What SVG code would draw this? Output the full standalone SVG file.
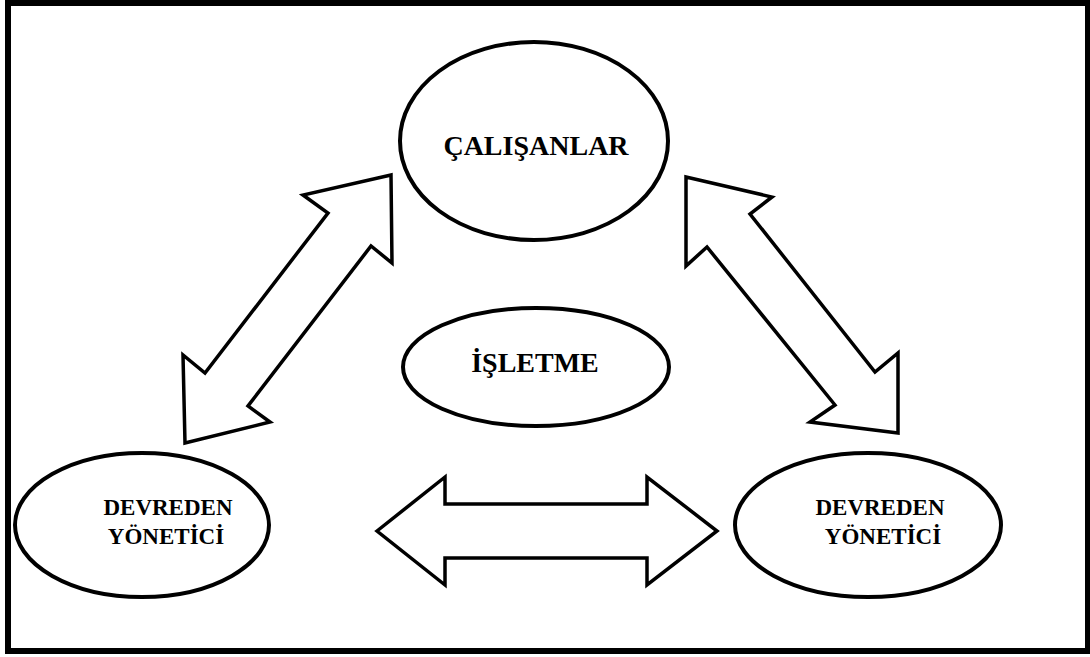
<svg xmlns="http://www.w3.org/2000/svg" width="1090" height="657" viewBox="0 0 1090 657">
  <style>
    .frame { fill: #ffffff; stroke: #000000; stroke-width: 6; }
    .node { fill: #ffffff; stroke: #000000; stroke-width: 4; }
    .arrow { fill: #ffffff; stroke: #000000; stroke-width: 3.5; stroke-linejoin: miter; }
    .label { font-family: "Liberation Serif", "Times New Roman", serif; font-weight: bold; fill: #000000; text-anchor: middle; }
  </style>

  <!-- outer frame -->
  <rect class="frame" x="8" y="3" width="1080" height="648"/>

  <!-- block arrows between the parties -->
  <g id="connectors">
    <polygon class="arrow" points="391,175 303,195 328,213 205,373 183,355 185,443 270,422 248,406 371,246 392,263"/>
    <polygon class="arrow" points="686,177 772,197 750,214 875,372 898,353 898,433 810,422 835,405 707,247 686,266"/>
    <polygon class="arrow" points="377,531 445,477 445,504 647,504 647,477 717,531 647,585 647,558 445,558 445,585"/>
  </g>

  <g id="calisanlar">
    <ellipse class="node" cx="534" cy="141" rx="134" ry="99"/>
    <text class="label" x="536" y="155" font-size="28">ÇALIŞANLAR</text>
  </g>

  <g id="isletme">
    <ellipse class="node" cx="536" cy="367" rx="133" ry="59"/>
    <text class="label" x="535" y="372" font-size="28">İŞLETME</text>
  </g>

  <g id="devreden-sol">
    <ellipse class="node" cx="142" cy="525" rx="127" ry="72"/>
    <text class="label" x="168" y="515" font-size="23">DEVREDEN</text>
    <text class="label" x="166" y="544" font-size="23">YÖNETİCİ</text>
  </g>

  <g id="devreden-sag">
    <ellipse class="node" cx="868" cy="525" rx="133" ry="72"/>
    <text class="label" x="880" y="515" font-size="23">DEVREDEN</text>
    <text class="label" x="883" y="544" font-size="23">YÖNETİCİ</text>
  </g>
</svg>
